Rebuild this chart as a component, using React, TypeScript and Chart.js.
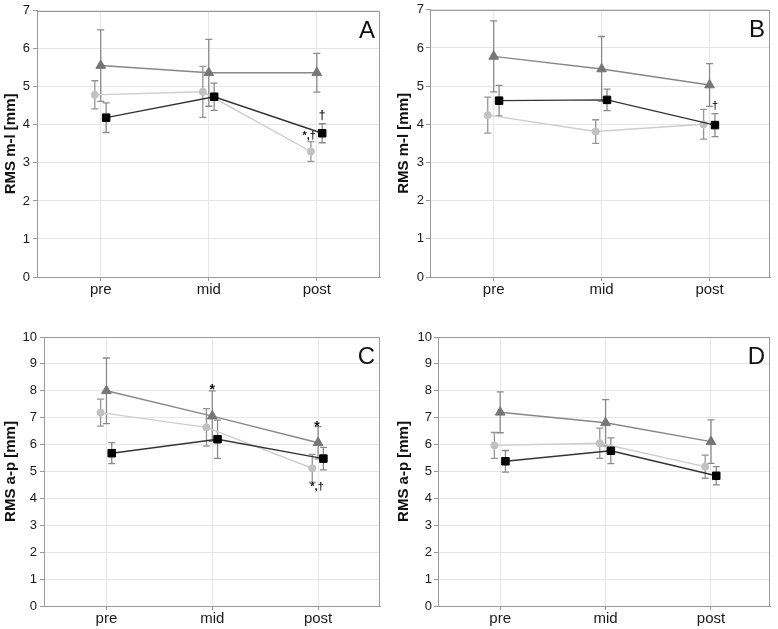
import React, { useEffect, useRef } from "react";
import { Chart, registerables } from "chart.js";
Chart.register(...registerables);

const categories = ["pre", "mid", "post"];
const circleOffset = -0.055;
const squareOffset = 0.05;

// Panel A – RMS m-l
const aSquare = [4.19, 4.74, 3.78];
const aSquareErr = [0.39, 0.36, 0.25];
const aCircle = [4.79, 4.87, 3.3];
const aCircleErr = [0.37, 0.67, 0.26];
const aTriangle = [5.56, 5.37, 5.37];
const aTriangleErr = [0.94, 0.88, 0.51];

// Panel B – RMS m-l
const bSquare = [4.62, 4.64, 3.98];
const bSquareErr = [0.4, 0.28, 0.3];
const bCircle = [4.24, 3.81, 4.0];
const bCircleErr = [0.47, 0.31, 0.39];
const bTriangle = [5.78, 5.45, 5.03];
const bTriangleErr = [0.93, 0.85, 0.56];

// Panel C – RMS a-p
const cSquare = [5.68, 6.2, 5.48];
const cSquareErr = [0.39, 0.71, 0.42];
const cCircle = [7.19, 6.64, 5.12];
const cCircleErr = [0.5, 0.7, 0.52];
const cTriangle = [8.0, 7.06, 6.07];
const cTriangleErr = [1.22, 0.94, 0.6];

// Panel D – RMS a-p
const dSquare = [5.38, 5.77, 4.84];
const dSquareErr = [0.4, 0.48, 0.34];
const dCircle = [5.97, 6.05, 5.18];
const dCircleErr = [0.48, 0.56, 0.43];
const dTriangle = [7.2, 6.81, 6.11];
const dTriangleErr = [0.76, 0.86, 0.81];

// significance marks (x in category units, y = text baseline value)
const aNotes = [
  { x: 2.05, y: 4.16, text: "†", size: 12 },
  { x: 1.93, y: 3.62, text: "*,†", size: 11 },
];
const bNotes = [{ x: 2.05, y: 4.4, text: "†", size: 11 }];
const cNotes = [
  { x: 1.0, y: 7.88, text: "*", size: 14 },
  { x: 1.99, y: 6.52, text: "*", size: 14 },
  { x: 1.99, y: 4.31, text: "*,†", size: 11 },
];
const dNotes: any[] = [];

const FONT = '"Liberation Sans", Arial, Helvetica, sans-serif';

const overlayPlugin = {
  id: "overlay",
  beforeDatasetsDraw(chart: any) {
    const { ctx } = chart;
    const xs = chart.scales.x;
    const ys = chart.scales.y;
    ctx.save();
    chart.data.datasets.forEach((ds: any) => {
      if (!ds.errors) return;
      ctx.strokeStyle = ds.errorColor;
      ctx.lineWidth = 1.3;
      ds.data.forEach((p: any, i: number) => {
        const e = ds.errors[i];
        const px = xs.getPixelForValue(p.x);
        const t = ys.getPixelForValue(p.y + e);
        const b = ys.getPixelForValue(p.y - e);
        ctx.beginPath();
        ctx.moveTo(px, t);
        ctx.lineTo(px, b);
        ctx.moveTo(px - 3.5, t);
        ctx.lineTo(px + 3.5, t);
        ctx.moveTo(px - 3.5, b);
        ctx.lineTo(px + 3.5, b);
        ctx.stroke();
      });
    });
    ctx.restore();
  },
  afterDraw(chart: any) {
    const o = chart.options.plugins.overlay || {};
    const { ctx, chartArea: a } = chart;
    const xs = chart.scales.x;
    const ys = chart.scales.y;
    ctx.save();
    ctx.strokeStyle = "#9a9a9a";
    ctx.lineWidth = 1;
    ctx.beginPath();
    const top = Math.round(a.top) + 0.5;
    const right = Math.round(a.right) - 0.5;
    ctx.moveTo(a.left, top);
    ctx.lineTo(right, top);
    ctx.lineTo(right, a.bottom);
    ctx.stroke();
    ctx.fillStyle = "#111";
    ctx.font = `24px ${FONT}`;
    ctx.textAlign = "right";
    ctx.textBaseline = "alphabetic";
    ctx.fillText(o.letter || "", a.right - 5, a.top + 27);
    (o.notes || []).forEach((n: any) => {
      ctx.font = `bold ${n.size}px ${FONT}`;
      ctx.textAlign = "center";
      ctx.fillText(n.text, xs.getPixelForValue(n.x), ys.getPixelForValue(n.y));
    });
    ctx.restore();
  },
};

type PanelProps = {
  left: number;
  top: number;
  width: number;
  height: number;
  axisWidth: number;
  padTop: number;
  padRight: number;
  xHeight: number;
  xMax: number;
  yMax: number;
  title: string;
  titlePad: number;
  tickPad: number;
  letter: string;
  square: number[];
  squareErr: number[];
  circle: number[];
  circleErr: number[];
  triangle: number[];
  triangleErr: number[];
  notes: any[];
};

function Panel(p: PanelProps) {
  const ref = useRef<HTMLCanvasElement>(null);
  useEffect(() => {
    if (!ref.current) return;
    const grid = { color: "#e6e6e6", tickColor: "#9a9a9a", tickLength: 4, lineWidth: 1 };
    const chart = new Chart(ref.current, {
      type: "line",
      data: {
        datasets: [
          {
            label: "square",
            data: p.square.map((v, i) => ({ x: i + squareOffset, y: v })),
            errors: p.squareErr,
            errorColor: "#8a8a8a",
            borderColor: "#333333",
            borderWidth: 1.4,
            backgroundColor: "#000000",
            pointStyle: "rect",
            pointRadius: 5.3,
            pointBorderWidth: 1,
            pointBorderColor: "#000000",
            pointBackgroundColor: "#000000",
          } as any,
          {
            label: "circle",
            data: p.circle.map((v, i) => ({ x: i + circleOffset, y: v })),
            errors: p.circleErr,
            errorColor: "#959595",
            borderColor: "#cdcdcd",
            borderWidth: 1.4,
            backgroundColor: "#c2c2c2",
            pointStyle: "circle",
            pointRadius: 3.6,
            pointBorderWidth: 1,
            pointBorderColor: "#c2c2c2",
            pointBackgroundColor: "#c2c2c2",
          } as any,
          {
            label: "triangle",
            data: p.triangle.map((v, i) => ({ x: i, y: v })),
            errors: p.triangleErr,
            errorColor: "#8a8a8a",
            borderColor: "#878787",
            borderWidth: 1.4,
            backgroundColor: "#767676",
            pointStyle: "triangle",
            pointRadius: 5.6,
            pointBorderWidth: 1,
            pointBorderColor: "#767676",
            pointBackgroundColor: "#767676",
          } as any,
        ],
      },
      options: {
        animation: false,
        responsive: true,
        maintainAspectRatio: false,
        layout: { padding: { top: p.padTop, right: p.padRight, left: 0, bottom: 0 } },
        plugins: {
          legend: { display: false },
          tooltip: { enabled: false },
          overlay: { letter: p.letter, notes: p.notes },
        } as any,
        elements: { line: { tension: 0 } },
        scales: {
          x: {
            type: "linear",
            min: -0.59,
            max: p.xMax,
            afterBuildTicks: (s: any) => {
              s.ticks = [0, 1, 2].map((v) => ({ value: v }));
            },
            afterFit: (s: any) => {
              s.height = p.xHeight;
            },
            ticks: {
              callback: (v: any) => categories[v] ?? "",
              font: { family: FONT, size: 15, lineHeight: 1 },
              color: "#1a1a1a",
              padding: 1,
              maxRotation: 0,
              autoSkip: false,
            },
            grid,
            border: { color: "#9a9a9a" },
          },
          y: {
            min: 0,
            max: p.yMax,
            afterFit: (s: any) => {
              s.width = p.axisWidth;
            },
            ticks: {
              stepSize: 1,
              font: { family: FONT, size: 13 },
              color: "#1a1a1a",
              padding: p.tickPad,
            },
            grid,
            border: { color: "#9a9a9a" },
            title: {
              display: true,
              text: p.title,
              font: { family: FONT, size: 15, weight: "bold" },
              color: "#111",
              padding: { top: p.titlePad, bottom: 0 },
            },
          },
        },
      } as any,
      plugins: [overlayPlugin],
    });
    return () => chart.destroy();
  }, []);
  return (
    <div
      style={{
        position: "absolute",
        left: p.left,
        top: p.top,
        width: p.width,
        height: p.height,
      }}
    >
      <canvas ref={ref} />
    </div>
  );
}

export default function App() {
  return (
    <div style={{ position: "absolute", left: 0, top: 0, width: 778, height: 629, background: "#fff" }}>
      <Panel
        left={0} top={0} width={389} height={310}
        axisWidth={37} padTop={8} padRight={9} xHeight={33} xMax={2.585} yMax={7}
        title="RMS m-l [mm]" titlePad={1.5} tickPad={3} letter="A"
        square={aSquare} squareErr={aSquareErr}
        circle={aCircle} circleErr={aCircleErr}
        triangle={aTriangle} triangleErr={aTriangleErr}
        notes={aNotes}
      />
      <Panel
        left={389} top={0} width={389} height={310}
        axisWidth={41} padTop={8} padRight={8} xHeight={33} xMax={2.56} yMax={7}
        title="RMS m-l [mm]" titlePad={5.8} tickPad={2} letter="B"
        square={bSquare} squareErr={bSquareErr}
        circle={bCircle} circleErr={bCircleErr}
        triangle={bTriangle} triangleErr={bTriangleErr}
        notes={bNotes}
      />
      <Panel
        left={0} top={310} width={389} height={319}
        axisWidth={44} padTop={27} padRight={9} xHeight={23} xMax={2.585} yMax={10}
        title="RMS a-p [mm]" titlePad={1.7} tickPad={3} letter="C"
        square={cSquare} squareErr={cSquareErr}
        circle={cCircle} circleErr={cCircleErr}
        triangle={cTriangle} triangleErr={cTriangleErr}
        notes={cNotes}
      />
      <Panel
        left={389} top={310} width={389} height={319}
        axisWidth={49} padTop={27} padRight={8} xHeight={23} xMax={2.56} yMax={10}
        title="RMS a-p [mm]" titlePad={6} tickPad={2} letter="D"
        square={dSquare} squareErr={dSquareErr}
        circle={dCircle} circleErr={dCircleErr}
        triangle={dTriangle} triangleErr={dTriangleErr}
        notes={dNotes}
      />
    </div>
  );
}
